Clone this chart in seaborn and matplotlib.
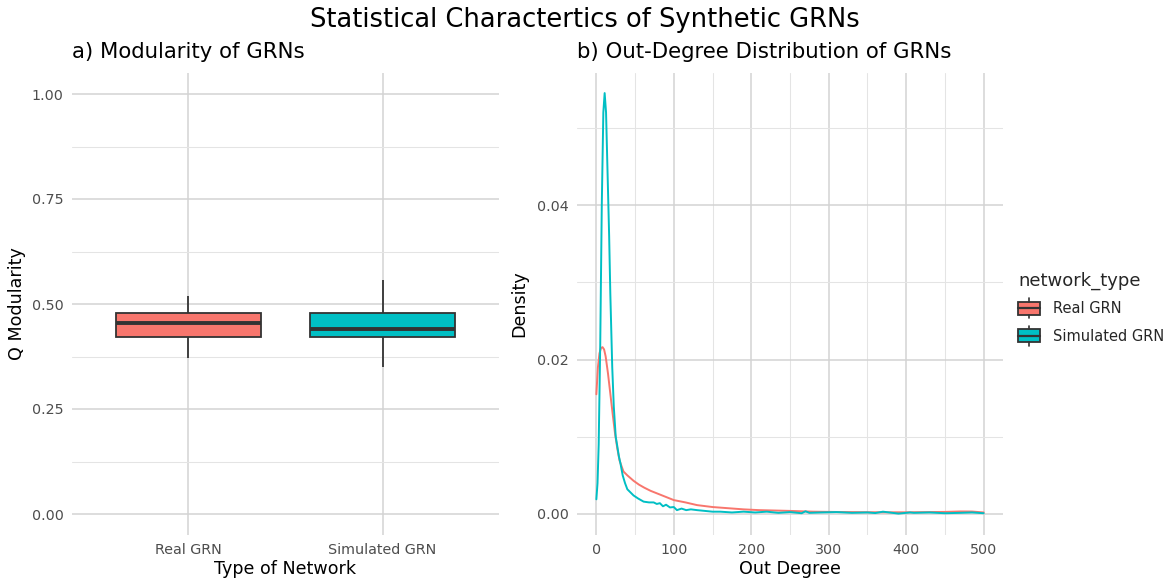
import numpy as np
import pandas as pd
import matplotlib
matplotlib.use("Agg")
import matplotlib.pyplot as plt
import seaborn as sns
from matplotlib.legend_handler import HandlerBase
from matplotlib.patches import Rectangle, Patch
from matplotlib.lines import Line2D
from matplotlib.ticker import MultipleLocator, FormatStrFormatter, NullLocator, FixedLocator

sns.set_theme(style="white")
plt.rcParams['font.family'] = ['DejaVu Sans']

# ---------------- data ----------------
network_types = ["Real GRN", "Simulated GRN"]
palette_colors = ["#F8766D", "#00BFC4"]

# five-number summaries of Q modularity (min, Q1, median, Q3, max)
real_modularity = [0.372, 0.422, 0.454, 0.478, 0.519]
sim_modularity = [0.351, 0.422, 0.440, 0.478, 0.557]

real_degree = [0, 2, 4, 6, 8, 10, 12, 15, 18, 21, 24, 27, 30, 35, 40, 48, 55, 62, 70, 80,
               90, 100, 115, 130, 150, 170, 190, 210, 230, 250, 280, 310, 340, 370, 400,
               430, 450, 470, 485, 500]
real_density = [0.0155, 0.0190, 0.0208, 0.0215, 0.0216, 0.0213, 0.0204, 0.0182, 0.0156,
                0.0130, 0.0105, 0.0085, 0.0069, 0.0055, 0.0050, 0.0043, 0.0038, 0.0034,
                0.0030, 0.0026, 0.0022, 0.0018, 0.0015, 0.00115, 0.0009, 0.00075, 0.0006,
                0.0005, 0.00045, 0.0004, 0.0003, 0.00026, 0.00024, 0.00022, 0.00022,
                0.00025, 0.00027, 0.00033, 0.00032, 0.0002]

sim_degree = [0, 1.5, 3, 5, 7, 9, 10.7, 12.5, 14.5, 16.5, 18, 20.5, 22.5, 25, 27, 29, 31,
              34, 37, 40, 44, 48, 54, 61, 68, 74, 78, 82, 86, 90, 95, 100, 104, 110, 116,
              122, 130, 140, 150, 160, 175, 190, 205, 220, 235, 250, 265, 270, 275, 290,
              310, 330, 350, 360, 370, 390, 405, 410, 430, 450, 470, 485, 500]
sim_density = [0.0019, 0.004, 0.009, 0.022, 0.040, 0.052, 0.0545, 0.052, 0.044, 0.036,
               0.0286, 0.019, 0.0139, 0.0100, 0.0088, 0.0075, 0.0066, 0.0050, 0.0040,
               0.0032, 0.0028, 0.0024, 0.0020, 0.0016, 0.0015, 0.0015, 0.0013, 0.0014,
               0.0010, 0.0012, 0.00085, 0.0009, 0.0005, 0.0007, 0.0005, 0.0006, 0.0005,
               0.0004, 0.0003, 0.0003, 0.0002, 0.0003, 0.0002, 0.0003, 0.00015, 0.00025,
               0.0001, 0.00035, 0.00015, 0.0002, 0.00025, 0.00015, 0.0002, 0.00012,
               0.0003, 0.00005, 0.0002, 0.00015, 0.0002, 0.0001, 0.00015, 0.0002, 0.0001]

box_df = pd.DataFrame({
    "network_type": [network_types[0]] * len(real_modularity) + [network_types[1]] * len(sim_modularity),
    "Q": real_modularity + sim_modularity,
})
dens_df = pd.DataFrame({
    "network_type": [network_types[0]] * len(real_degree) + [network_types[1]] * len(sim_degree),
    "degree": real_degree + sim_degree,
    "density": real_density + sim_density,
})
palette = dict(zip(network_types, palette_colors))

# ---------------- figure ----------------
W, H = 1170, 581
fig = plt.figure(figsize=(W / 100, H / 100), dpi=100)
fig.patch.set_facecolor("white")

def fx(px):
    return px / W

def fy(py):
    return 1 - py / H

ax1 = fig.add_axes([fx(72), fy(535), fx(499) - fx(72), fy(73) - fy(535)])
ax2 = fig.add_axes([fx(577), fy(535), fx(1003) - fx(577), fy(73) - fy(535)])

MAJ = dict(color="#d3d3d3", linewidth=1.1)
MIN = dict(color="#e4e4e4", linewidth=0.75)
TICK_COLOR = "#4d4d4d"
TICK_SIZE = 10.3
LAB_SIZE = 12.6

# ---- panel a: boxplot ----
sns.boxplot(data=box_df, x="network_type", y="Q", hue="network_type",
            order=network_types, hue_order=network_types, palette=palette,
            saturation=1, width=0.75, whis=(0, 100), linecolor="#333333",
            linewidth=1.3, showcaps=False, showfliers=False,
            medianprops=dict(linewidth=2.8, color="#333333"),
            legend=False, ax=ax1, zorder=3)
ax1.set_xlim(-0.6, 1.6)
ax1.set_ylim(-0.05, 1.05)
ax1.yaxis.set_major_locator(FixedLocator([0, 0.25, 0.5, 0.75, 1.0]))
ax1.yaxis.set_minor_locator(FixedLocator([0.125, 0.375, 0.625, 0.875]))
ax1.yaxis.set_major_formatter(FormatStrFormatter("%.2f"))
ax1.xaxis.set_minor_locator(NullLocator())
ax1.set_xlabel("Type of Network", fontsize=LAB_SIZE, labelpad=2)
ax1.set_ylabel("Q Modularity", fontsize=LAB_SIZE, labelpad=4)

# ---- panel b: density lines ----
sns.lineplot(data=dens_df, x="degree", y="density", hue="network_type",
             hue_order=network_types, palette=palette, estimator=None, sort=False,
             linewidth=1.4, legend=False, ax=ax2, zorder=3)
ax2.set_xlim(-25, 525)
ax2.set_ylim(-0.00272, 0.0571)
ax2.xaxis.set_major_locator(MultipleLocator(100))
ax2.xaxis.set_minor_locator(MultipleLocator(50))
ax2.yaxis.set_major_locator(FixedLocator([0, 0.02, 0.04]))
ax2.yaxis.set_minor_locator(FixedLocator([0.01, 0.03, 0.05]))
ax2.yaxis.set_major_formatter(FormatStrFormatter("%.2f"))
ax2.set_xlabel("Out Degree", fontsize=LAB_SIZE, labelpad=2)
ax2.set_ylabel("Density", fontsize=LAB_SIZE, labelpad=6)

for ax in (ax1, ax2):
    ax.set_facecolor("white")
    ax.set_axisbelow(True)
    for s in ax.spines.values():
        s.set_visible(False)
    ax.grid(True, which="major", **MAJ)
    ax.grid(True, which="minor", **MIN)
    ax.tick_params(which="both", length=0, labelsize=TICK_SIZE, labelcolor=TICK_COLOR, pad=6)
    ax.xaxis.label.set_color("black")
    ax.yaxis.label.set_color("black")

# ---- titles ----
fig.text(0.5, fy(20), "Statistical Charactertics of Synthetic GRNs",
         ha="center", va="center", fontsize=18.5, color="black")
fig.text(fx(72), fy(52), "a) Modularity of GRNs", ha="left", va="center",
         fontsize=15.3, color="black")
fig.text(fx(577), fy(52), "b) Out-Degree Distribution of GRNs", ha="left", va="center",
         fontsize=15.3, color="black")

# ---- legend with boxplot keys ----
class BoxHandler(HandlerBase):
    def create_artists(self, legend, orig_handle, xdescent, ydescent, width, height,
                       fontsize, trans):
        x0, y0 = -xdescent, -ydescent
        fc = orig_handle.get_facecolor()
        rect = Rectangle((x0, y0 + 0.17 * height), width, 0.66 * height,
                         facecolor=fc, edgecolor="#333333", linewidth=1.3, transform=trans)
        med = Line2D([x0, x0 + width], [y0 + 0.5 * height] * 2, color="#333333",
                     linewidth=1.6, transform=trans)
        wl = Line2D([x0 + width / 2] * 2, [y0, y0 + 0.17 * height], color="#333333",
                    linewidth=1.2, transform=trans)
        wu = Line2D([x0 + width / 2] * 2, [y0 + 0.83 * height, y0 + height], color="#333333",
                    linewidth=1.2, transform=trans)
        return [rect, med, wl, wu]

handles = [Patch(facecolor=c, edgecolor="#333333") for c in palette_colors]
leg = fig.legend(handles, network_types, title="network_type",
                 handler_map={Patch: BoxHandler()},
                 loc="upper left", bbox_to_anchor=(fx(1018), fy(272)),
                 frameon=False, fontsize=10.5, title_fontsize=13,
                 handlelength=1.5, handleheight=1.7, labelspacing=0.55,
                 handletextpad=0.9, borderpad=0, borderaxespad=0, alignment="left")

fig.savefig("out.png", dpi=100, facecolor="white")
